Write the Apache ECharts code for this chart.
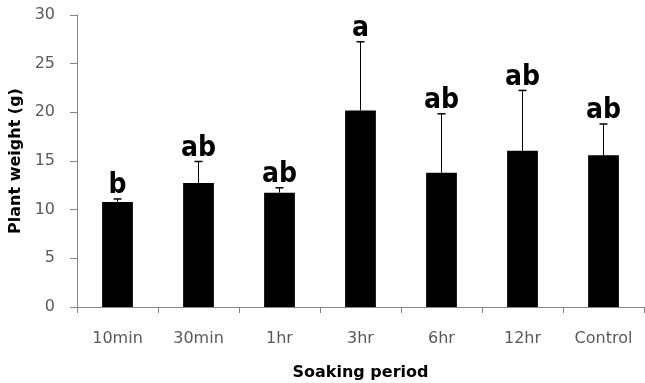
<!DOCTYPE html>
<html>
<head>
<meta charset="utf-8">
<script src="https://cdn.jsdelivr.net/npm/echarts@6/dist/echarts.min.js"></script>
<style>
  html, body { margin: 0; padding: 0; background: #fff; }
  #chart { width: 645px; height: 383px; }
</style>
</head>
<body>
<div id="chart"></div>
<script>
// Soaking period treatments and mean plant weight (g)
const categories = ['10min', '30min', '1hr', '3hr', '6hr', '12hr', 'Control'];
const weights = [10.8, 12.75, 11.75, 20.2, 13.8, 16.05, 15.6];
// Upper error (standard deviation) for each treatment
const errors = [0.3, 2.2, 0.5, 7.05, 6.05, 6.2, 3.2];
// Significance letters from the mean comparison test
const letters = ['b', 'ab', 'ab', 'a', 'ab', 'ab', 'ab'];
const yTicks = [0, 5, 10, 15, 20, 25, 30];

const axisGray = '#868686';
const labelGray = '#595959';
const fontFamily = 'DejaVu Sans, sans-serif';
const letterFont = '"Liberation Sans Narrow", "DejaVu Sans Condensed", sans-serif';

const chart = echarts.init(document.getElementById('chart'));

const errData = categories.map((c, i) => [i, weights[i], errors[i]]);

chart.setOption({
  animation: false,
  backgroundColor: '#fff',
  grid: { left: 77, right: 1, top: 15, bottom: 76, containLabel: false, outerBoundsMode: 'none' },
  xAxis: {
    type: 'category',
    data: categories,
    boundaryGap: true,
    name: 'Soaking period',
    nameLocation: 'middle',
    nameGap: 58,
    nameTextStyle: { fontFamily, fontWeight: 'bold', fontSize: 16, color: '#000' },
    axisLine: { lineStyle: { color: axisGray, width: 1 } },
    axisTick: { show: true, alignWithLabel: false, length: 6, lineStyle: { color: axisGray } },
    axisLabel: { fontFamily, fontSize: 16, color: labelGray, margin: 24 }
  },
  yAxis: {
    type: 'value',
    min: yTicks[0],
    max: yTicks[yTicks.length - 1],
    interval: 5,
    name: 'Plant weight (g)',
    nameLocation: 'middle',
    nameGap: 51,
    nameRotate: 90,
    nameTextStyle: { fontFamily, fontWeight: 'bold', fontSize: 16, color: '#000' },
    splitLine: { show: false },
    axisLine: { show: true, lineStyle: { color: axisGray, width: 1 } },
    axisTick: { show: true, length: 7, lineStyle: { color: axisGray } },
    axisLabel: { fontFamily, fontSize: 16, color: labelGray, margin: 22 }
  },
  series: [
    {
      type: 'bar',
      data: weights,
      barWidth: '38%',
      itemStyle: { color: '#000' },
      z: 2
    },
    {
      type: 'custom',
      data: errData,
      z: 3,
      renderItem: function (params, api) {
        const idx = api.value(0);
        const mean = api.value(1);
        const err = api.value(2);
        const base = api.coord([idx, mean]);
        const top = api.coord([idx, mean + err]);
        const capHalf = 4;
        return {
          type: 'group',
          children: [
            {
              type: 'line',
              shape: { x1: base[0], y1: base[1], x2: top[0], y2: top[1] },
              style: { stroke: '#000', lineWidth: 1 }
            },
            {
              type: 'line',
              shape: { x1: top[0] - capHalf, y1: top[1], x2: top[0] + capHalf, y2: top[1] },
              style: { stroke: '#000', lineWidth: 1.5 }
            },
            {
              type: 'text',
              style: {
                text: letters[idx],
                x: top[0],
                y: top[1] + 1,
                align: 'center',
                verticalAlign: 'bottom',
                fontFamily: letterFont,
                fontWeight: 'bold',
                fontSize: 28,
                fill: '#000'
              }
            }
          ]
        };
      }
    }
  ]
});
</script>
</body>
</html>
